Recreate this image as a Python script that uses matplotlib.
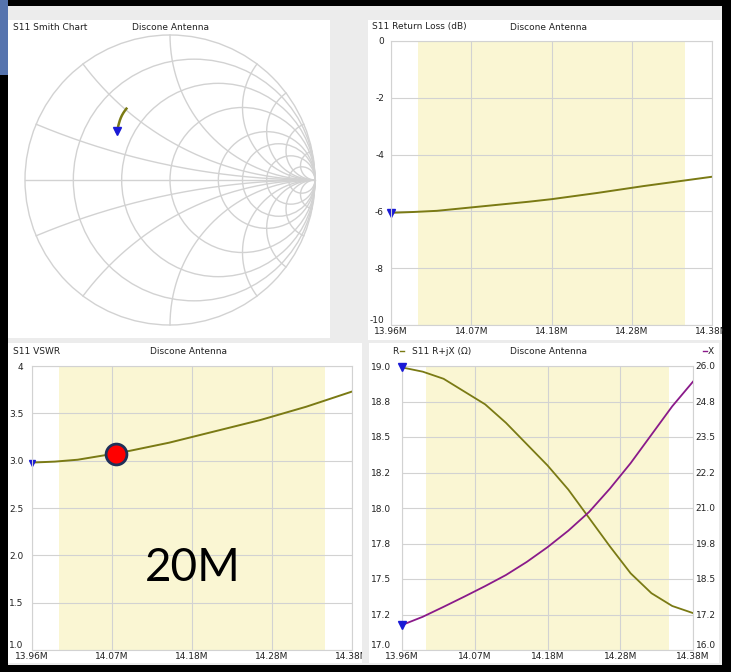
import numpy as np
import matplotlib
matplotlib.use("Agg")
import matplotlib.pyplot as plt
from matplotlib.patches import Rectangle, Circle

plt.rcParams['font.family'] = ['DejaVu Sans']

# ---- data ----
freq_mhz = [13.96, 13.99, 14.02, 14.05, 14.08, 14.11, 14.14, 14.17,
            14.20, 14.23, 14.26, 14.29, 14.32, 14.35, 14.38]
return_loss_db = [-6.05, -6.02, -5.98, -5.90, -5.82, -5.74, -5.66, -5.57,
                  -5.46, -5.35, -5.23, -5.11, -5.00, -4.89, -4.78]
vswr = [2.98, 2.99, 3.01, 3.05, 3.09, 3.14, 3.19, 3.25,
        3.31, 3.37, 3.43, 3.50, 3.57, 3.65, 3.73]
resistance = [18.99, 18.96, 18.91, 18.82, 18.73, 18.60, 18.45, 18.30,
              18.13, 17.93, 17.73, 17.54, 17.40, 17.31, 17.26]
reactance = [16.88, 17.17, 17.52, 17.88, 18.25, 18.64, 19.10, 19.62,
             20.20, 20.86, 21.68, 22.58, 23.58, 24.58, 25.45]
z0 = 50.0

band_start, band_end = 13.995, 14.345
marker_freq, marker_vswr = 14.07, 3.07

x_ticklabels = ['13.96M', '14.07M', '14.18M', '14.28M', '14.38M']
rl_ticks = [0, -2, -4, -6, -8, -10]
vswr_ticks = [1.0, 1.5, 2.0, 2.5, 3.0, 3.5, 4.0]
vswr_ticklabels = ['1.0', '1.5', '2.0', '2.5', '3.0', '3.5', '4']
r_ticklabels = ['17.0', '17.2', '17.5', '17.8', '18.0', '18.2', '18.5', '18.8', '19.0']
x_right_ticklabels = ['16.0', '17.2', '18.5', '19.8', '21.0', '22.2', '23.5', '24.8', '26.0']

smith_r = [0.2, 0.5, 1, 2, 3, 5, 10]
smith_x = [0.2, 0.5, 1, 2, 3, 5, 10]

# ---- colours ----
OLIVE = '#7a7a14'
PURPLE = '#8a1a8a'
BAND = '#faf6d3'
GRID = '#d2d2d2'
BLUE = '#1a1ad6'
PANEL_BG = '#ececec'
TXT = '#222222'
FS = 6.5

W, H = 731, 672


def rect(x0, y0, x1, y1):
    return [x0 / W, 1 - y1 / H, (x1 - x0) / W, (y1 - y0) / H]


fig = plt.figure(figsize=(W / 100, H / 100), dpi=100)
fig.patch.set_facecolor('black')

# background panels (pixel coordinates)
bg = fig.add_axes(rect(0, 0, W, H))
bg.set_xlim(0, W)
bg.set_ylim(H, 0)
bg.axis('off')
bg.set_zorder(-10)
bg.add_patch(Rectangle((8, 6), 714, 659, color=PANEL_BG, lw=0))
bg.add_patch(Rectangle((0, 0), 8, 75, color='#5674ae', lw=0))
for x0, y0, x1, y1 in [(8, 20, 330, 338), (368, 20, 722, 340),
                       (8, 343, 364, 663), (369, 343, 719, 663)]:
    bg.add_patch(Rectangle((x0, y0), x1 - x0, y1 - y0, color='white', lw=0))

xticks = np.linspace(freq_mhz[0], freq_mhz[-1], 5)


def style_axes(ax, yticks, ylabels, ylim, ypad):
    ax.set_xlim(freq_mhz[0], freq_mhz[-1])
    ax.set_ylim(*ylim)
    ax.set_xticks(xticks)
    ax.set_xticklabels(x_ticklabels)
    ax.set_yticks(yticks)
    ax.set_yticklabels(ylabels)
    ax.axvspan(band_start, band_end, color=BAND, lw=0, zorder=0.2)
    ax.grid(color=GRID, lw=0.8)
    ax.set_axisbelow(True)
    ax.tick_params(length=0, labelsize=FS, colors=TXT)
    ax.tick_params(axis='x', pad=1.5)
    ax.tick_params(axis='y', pad=ypad)
    for s in ax.spines.values():
        s.set_color(GRID)
        s.set_linewidth(0.8)
    ax.set_facecolor('white')
    # bottom label sits above the frequency labels
    bottom = min(ax.get_yticklabels(), key=lambda t: t.get_position()[1])
    bottom.set_va('bottom')


# ---- Smith chart ----
ax_s = fig.add_axes(rect(20, 30, 320, 330))
lim = 150 / 145
ax_s.set_xlim(-lim, lim)
ax_s.set_ylim(-lim, lim)
ax_s.set_aspect('equal')
ax_s.axis('off')
ax_s.add_patch(Circle((0, 0), 1, fill=False, ec=GRID, lw=1.0))
ax_s.plot([-1, 1], [0, 0], color=GRID, lw=1.0)
for r in smith_r:
    ax_s.add_patch(Circle((r / (1 + r), 0), 1 / (1 + r), fill=False, ec=GRID, lw=1.0))
rr = np.concatenate([np.linspace(0, 5, 300), np.logspace(np.log10(5), 4, 300)])
for xv in smith_x:
    for sgn in (1, -1):
        z = rr + 1j * sgn * xv
        g = (z - 1) / (z + 1)
        ax_s.plot(g.real, g.imag, color=GRID, lw=1.0)
zl = np.array(resistance) + 1j * np.array(reactance)
gamma = (zl - z0) / (zl + z0)
ax_s.plot(gamma.real, gamma.imag, color=OLIVE, lw=1.8)
ax_s.plot(gamma.real[0], gamma.imag[0], 'v', color=BLUE, ms=6)

# ---- Return loss ----
ax_rl = fig.add_axes(rect(391, 41, 712, 325))
style_axes(ax_rl, rl_ticks, [str(v) for v in rl_ticks], (-10, 0), 5)
ax_rl.plot(freq_mhz, return_loss_db, color=OLIVE, lw=1.4)
ax_rl.plot(freq_mhz[0], return_loss_db[0], 'v', color=BLUE, ms=5.5, clip_on=False)

# ---- VSWR ----
ax_vs = fig.add_axes(rect(32, 366, 352, 650))
style_axes(ax_vs, vswr_ticks, vswr_ticklabels, (1, 4), 6)
ax_vs.plot(freq_mhz, vswr, color=OLIVE, lw=1.4)
ax_vs.plot(freq_mhz[0], vswr[0], 'v', color=BLUE, ms=5, clip_on=False)
ax_vs.plot(marker_freq, marker_vswr, 'o', ms=15, mfc='#ff0000', mec='#1f3058', mew=2, zorder=5)
ax_vs.text(0.503, 0.29, '20M', transform=ax_vs.transAxes, ha='center', va='center',
           fontsize=33, family=['Lato', 'DejaVu Sans'], color='black')

# ---- R + jX ----
ax_rx = fig.add_axes(rect(402, 366, 693, 650))
style_axes(ax_rx, np.linspace(17, 19, 9), r_ticklabels, (17, 19), 8)
ax_rx.plot(freq_mhz, resistance, color=OLIVE, lw=1.3)
ax_rx.plot(freq_mhz[0], resistance[0], 'v', color=BLUE, ms=6, clip_on=False, zorder=6)
ax_x = ax_rx.twinx()
ax_x.set_ylim(16, 26)
ax_x.set_yticks(np.linspace(16, 26, 9))
ax_x.set_yticklabels(x_right_ticklabels)
ax_x.tick_params(length=0, labelsize=FS, pad=2, colors=TXT)
for s in ax_x.spines.values():
    s.set_visible(False)
ax_x.get_yticklabels()[0].set_va('bottom')
ax_x.plot(freq_mhz, reactance, color=PURPLE, lw=1.3)
ax_x.plot(freq_mhz[0], reactance[0], 'v', color=BLUE, ms=6, clip_on=False)

# ---- overlay: titles and window frame ----
ov = fig.add_axes(rect(0, 0, W, H))
ov.set_xlim(0, W)
ov.set_ylim(H, 0)
ov.axis('off')
ov.set_zorder(20)
ov.patch.set_alpha(0)
tkw = dict(fontsize=FS, va='center', color=TXT)
ov.text(13, 27, 'S11 Smith Chart', **tkw)
ov.text(170, 27, 'Discone Antenna', ha='center', **tkw)
ov.text(372, 27, 'S11 Return Loss (dB)', **tkw)
ov.text(548, 27, 'Discone Antenna', ha='center', **tkw)
ov.text(13, 351, 'S11 VSWR', **tkw)
ov.text(188, 351, 'Discone Antenna', ha='center', **tkw)
ov.text(392, 351, 'R', **tkw)
ov.plot([400, 404], [351, 351], color=OLIVE, lw=1)
ov.text(412, 351, 'S11 R+jX (Ω)', **tkw)
ov.text(548, 351, 'Discone Antenna', ha='center', **tkw)
ov.plot([703, 707], [351, 351], color=PURPLE, lw=1)
ov.text(708, 351, 'X', **tkw)
# frame pieces that crop the window edges
ov.add_patch(Rectangle((723, 0), 8, H, color='black', lw=0))
ov.add_patch(Rectangle((0, 665), W, 7, color='black', lw=0))
ov.add_patch(Rectangle((0, 75), 8, H, color='black', lw=0))
ov.add_patch(Rectangle((8, 0), W, 6, color='black', lw=0))
ov.add_patch(Rectangle((362, 343), 6, 320, color=PANEL_BG, lw=0))

fig.savefig('out.png', dpi=100, facecolor=fig.get_facecolor())
